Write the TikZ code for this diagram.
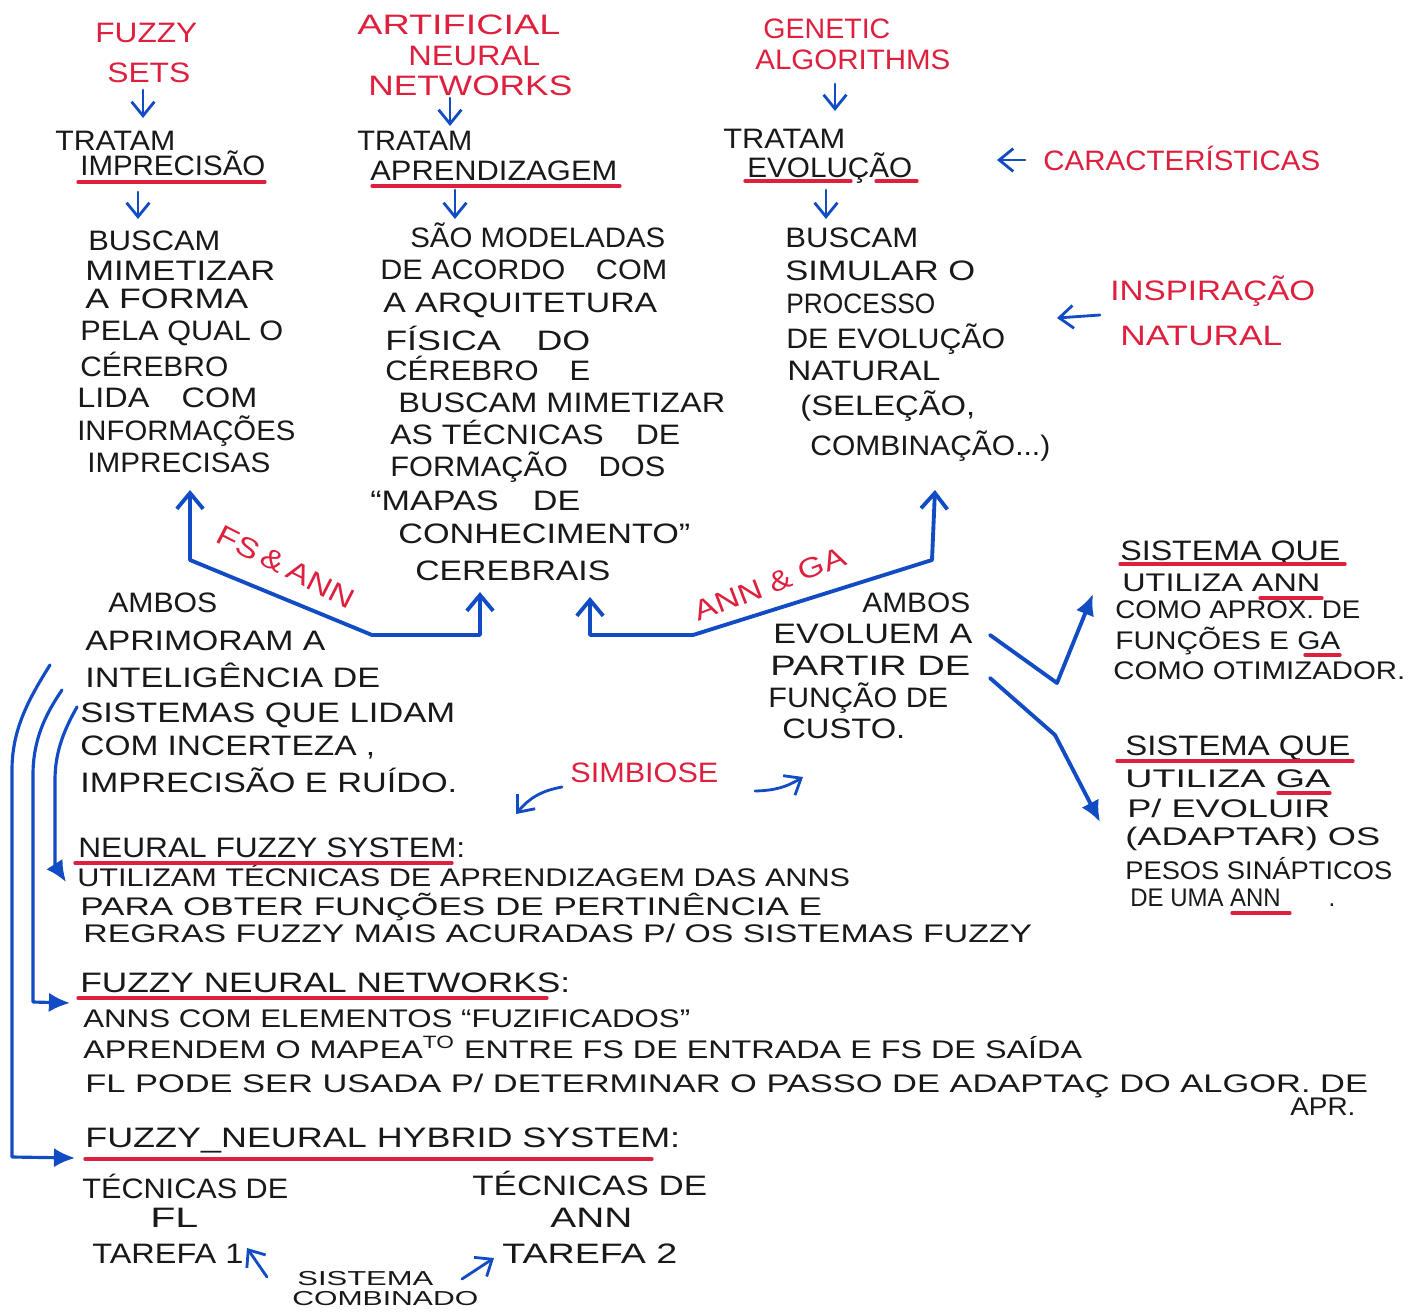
\documentclass[tikz,border=0pt]{standalone}
\usepackage{fontspec}
\usepackage{graphicx}
\setmainfont{Liberation Sans}
\usetikzlibrary{arrows.meta}
\definecolor{pred}{RGB}{222,32,62}
\definecolor{pblue}{RGB}{18,76,196}
\definecolor{pink}{RGB}{25,25,25}
\newcommand\hw[2]{\sbox0{#2}\pgfmathsetmacro\hwr{#1*0.56905/\the\wd0}\scalebox{\hwr}[1]{\usebox0}}
\tikzset{
  txt/.style={anchor=base west,inner sep=0pt,text=pink,font=\fontsize{16}{18}\selectfont},
  rtxt/.style={txt,text=pred},
  midtxt/.style={txt,font=\fontsize{14.5}{16}\selectfont},
  smalltxt/.style={txt,font=\fontsize{11.5}{12}\selectfont},
  uline/.style={draw=pred,line width=1.9pt,line cap=round},
  sarr/.style={draw=pblue,line width=1.6pt,-{Straight Barb[length=8pt,width=13pt]},line cap=round},
  barr/.style={draw=pblue,line width=2.2pt,line cap=round,line join=round},
  farr/.style={draw=pblue,line width=2.2pt,line cap=round,line join=round,-{Latex[length=12pt,width=11pt]}}
}
\begin{document}
\begin{tikzpicture}[x=0.02cm,y=-0.02cm]
\useasboundingbox[fill=white] (0,0) rectangle (1414,1315);
% red headers
\node[rtxt] (r1) at (95,42) {\hw{102}{FUZZY}};
\node[rtxt] (r2) at (107,82) {\hw{83}{SETS}};
\node[rtxt] (r3) at (357,34) {\hw{203}{ARTIFICIAL}};
\node[rtxt] (r4) at (408,65) {\hw{132}{NEURAL}};
\node[rtxt] (r5) at (368,95) {\hw{204}{NETWORKS}};
\node[rtxt] (r6) at (763,38) {\hw{127}{GENETIC}};
\node[rtxt] (r7) at (755,70) {\hw{195}{ALGORITHMS}};
\node[rtxt] (r8) at (1043,170) {\hw{277}{CARACTERÍSTICAS}};
\node[rtxt] (r9) at (1110,300) {\hw{205}{INSPIRAÇÃO}};
\node[rtxt] (r10) at (1120,345) {\hw{162}{NATURAL}};
\node[rtxt] (r11) at (570,782) {\hw{148}{SIMBIOSE}};
\node[rtxt,anchor=center,rotate=-27] (r12) at (286,567) {\hw{150}{FS\,\&\,ANN}};
\node[rtxt,anchor=center,rotate=21] (r13) at (770,584) {\hw{160}{ANN \& GA}};
% column 1
\node[txt] (a1) at (55,150) {\hw{120}{TRATAM}};
\node[txt] (a2) at (80,175) {\hw{185}{IMPRECISÃO}};
\node[txt] (a3) at (88,250) {\hw{132}{BUSCAM}};
\node[txt] (a4) at (85,280) {\hw{190}{MIMETIZAR}};
\node[txt] (a5) at (85,308) {\hw{163}{A FORMA}};
\node[txt] (a6) at (80,340) {\hw{203}{PELA QUAL O}};
\node[txt] (a7) at (80,376) {\hw{148}{CÉREBRO}};
\node[txt] (a8) at (77,407) {\hw{180}{LIDA\quad COM}};
\node[txt] (a9) at (77,440) {\hw{218}{INFORMAÇÕES}};
\node[txt] (a10) at (87,472) {\hw{183}{IMPRECISAS}};
% column 2
\node[txt] (b1) at (357,150) {\hw{115}{TRATAM}};
\node[txt] (b2) at (370,180) {\hw{247}{APRENDIZAGEM}};
\node[txt] (b3) at (410,247) {\hw{255}{SÃO MODELADAS}};
\node[txt] (b4) at (380,279) {\hw{287}{DE ACORDO\quad COM}};
\node[txt] (b5) at (383,312) {\hw{274}{A ARQUITETURA}};
\node[txt] (b6) at (385,350) {\hw{205}{FÍSICA\quad DO}};
\node[txt] (b7) at (385,380) {\hw{205}{CÉREBRO\quad E}};
\node[txt] (b8) at (398,412) {\hw{327}{BUSCAM MIMETIZAR}};
\node[txt] (b9) at (390,444) {\hw{290}{AS TÉCNICAS\quad DE}};
\node[txt] (b10) at (390,476) {\hw{275}{FORMAÇÃO\quad DOS}};
\node[txt] (b11) at (370,510) {\hw{210}{“MAPAS\quad DE}};
\node[txt] (b12) at (398,543) {\hw{292}{CONHECIMENTO”}};
\node[txt] (b13) at (415,580) {\hw{195}{CEREBRAIS}};
% column 3
\node[txt] (c1) at (723,148) {\hw{122}{TRATAM}};
\node[txt] (c2) at (747,177) {\hw{165}{EVOLUÇÃO}};
\node[txt] (c3) at (785,247) {\hw{133}{BUSCAM}};
\node[txt] (c4) at (785,280) {\hw{190}{SIMULAR O}};
\node[txt] (c5) at (786,313) {\hw{149}{PROCESSO}};
\node[txt] (c6) at (786,348) {\hw{219}{DE EVOLUÇÃO}};
\node[txt] (c7) at (787,380) {\hw{153}{NATURAL}};
\node[txt] (c8) at (800,415) {\hw{175}{(SELEÇÃO,}};
\node[txt] (c9) at (810,455) {\hw{240}{COMBINAÇÃO...)}};
% middle left
\node[txt] (d1) at (108,612) {\hw{109}{AMBOS}};
\node[txt] (d2) at (85,650) {\hw{240}{APRIMORAM A}};
\node[txt] (d3) at (85,687) {\hw{295}{INTELIGÊNCIA DE}};
\node[txt] (d4) at (80,722) {\hw{375}{SISTEMAS QUE LIDAM}};
\node[txt] (d5) at (80,755) {\hw{295}{COM INCERTEZA ,}};
\node[txt] (d6) at (80,792) {\hw{377}{IMPRECISÃO E RUÍDO.}};
% middle right
\node[txt] (e1) at (862,612) {\hw{108}{AMBOS}};
\node[txt] (e2) at (773,643) {\hw{199}{EVOLUEM A}};
\node[txt] (e3) at (770,675) {\hw{200}{PARTIR DE}};
\node[txt] (e4) at (768,707) {\hw{180}{FUNÇÃO DE}};
\node[txt] (e5) at (782,738) {\hw{123}{CUSTO.}};
% right
\node[txt] (f1) at (1120,560) {\hw{220}{SISTEMA QUE}};
\node[midtxt] (f2) at (1122,591) {\hw{198}{UTILIZA ANN}};
\node[midtxt] (f3) at (1115,618) {\hw{245}{COMO APROX. DE}};
\node[midtxt] (f4) at (1115,649) {\hw{225}{FUNÇÕES E GA}};
\node[midtxt] (f5) at (1113,679) {\hw{292}{COMO OTIMIZADOR.}};
\node[txt] (g1) at (1125,755) {\hw{225}{SISTEMA QUE}};
\node[midtxt] (g2) at (1125,787) {\hw{205}{UTILIZA GA}};
\node[midtxt] (g3) at (1127,817) {\hw{203}{P/ EVOLUIR}};
\node[midtxt] (g4) at (1125,845) {\hw{255}{(ADAPTAR) OS}};
\node[midtxt] (g5) at (1125,879) {\hw{267}{PESOS SINÁPTICOS}};
\node[midtxt] (g6) at (1130,906) {\hw{205}{DE UMA ANN\qquad .}};
% bottom
\node[txt] (h1) at (78,857) {\hw{387}{NEURAL FUZZY SYSTEM:}};
\node[midtxt] (h2) at (77,886) {\hw{773}{UTILIZAM TÉCNICAS DE APRENDIZAGEM DAS ANNS}};
\node[midtxt] (h3) at (80,915) {\hw{742}{PARA OBTER FUNÇÕES DE PERTINÊNCIA E}};
\node[midtxt] (h4) at (83,942) {\hw{949}{REGRAS FUZZY MAIS ACURADAS P/ OS SISTEMAS FUZZY}};
\node[txt] (i1) at (80,992) {\hw{490}{FUZZY NEURAL NETWORKS:}};
\node[midtxt] (i2) at (83,1027) {\hw{607}{ANNS COM ELEMENTOS “FUZIFICADOS”}};
\node[midtxt] (i3) at (83,1058) {\hw{999}{APRENDEM O MAPEA\textsuperscript{TO} ENTRE FS DE ENTRADA E FS DE SAÍDA}};
\node[midtxt] (i4) at (85,1092) {\hw{1283}{FL PODE SER USADA P/ DETERMINAR O PASSO DE ADAPTAÇ DO ALGOR. DE}};
\node[midtxt] (i5) at (1290,1115) {\hw{65}{APR.}};
\node[txt] (j1) at (85,1147) {\hw{595}{FUZZY\_NEURAL HYBRID SYSTEM:}};
\node[txt] (j2) at (82,1198) {\hw{206}{TÉCNICAS DE}};
\node[txt] (j3) at (150,1227) {\hw{48}{FL}};
\node[txt] (j4) at (472,1195) {\hw{235}{TÉCNICAS DE}};
\node[txt] (j5) at (550,1227) {\hw{82}{ANN}};
\node[txt] (j6) at (92,1263) {\hw{151}{TAREFA 1}};
\node[txt] (j7) at (502,1263) {\hw{175}{TAREFA 2}};
\node[smalltxt] (j8) at (297,1285) {\hw{136}{SISTEMA}};
\node[smalltxt] (j9) at (292,1305) {\hw{186}{COMBINADO}};
% red underlines
\draw[uline] (78,182) -- (265,182);
\draw[uline] (372,186) -- (620,186);
\draw[uline] (745,181) -- (851,181);
\draw[uline] (876,181) -- (917,181);
\draw[uline] (1120,564) -- (1345,564);
\draw[uline] (1260,598) -- (1322,598);
\draw[uline] (1305,655) -- (1340,655);
\draw[uline] (1117,761) -- (1353,761);
\draw[uline] (1278,793) -- (1330,793);
\draw[uline] (1232,913) -- (1290,913);
\draw[uline] (75,863) -- (452,863);
\draw[uline] (78,998) -- (547,998);
\draw[uline] (85,1159) -- (652,1159);
% small arrows
\coordinate (s1a) at (143,90);  \coordinate (s1b) at (143,118);
\coordinate (s2a) at (450,98);  \coordinate (s2b) at (450,126);
\coordinate (s3a) at (835,84);  \coordinate (s3b) at (835,111);
\coordinate (s4a) at (138,192); \coordinate (s4b) at (138,219);
\coordinate (s5a) at (455,190); \coordinate (s5b) at (455,219);
\coordinate (s6a) at (826,190); \coordinate (s6b) at (826,219);
\draw[sarr] (s1a) -- (s1b);
\draw[sarr] (s2a) -- (s2b);
\draw[sarr] (s3a) -- (s3b);
\draw[sarr] (s4a) -- (s4b);
\draw[sarr] (s5a) -- (s5b);
\draw[sarr] (s6a) -- (s6b);
\coordinate (k1) at (1025,160); \coordinate (k2) at (997,160);
\draw[sarr] (k1) -- (k2);
\coordinate (k3) at (1100,315); \coordinate (k4) at (1057,318);
\draw[sarr] (k3) -- (k4);
% FS & ANN and ANN & GA paths
\coordinate (p1) at (190,490); \coordinate (p2) at (190,560);
\coordinate (p3) at (372,635); \coordinate (p4) at (480,635);
\coordinate (p5) at (480,592);
\draw[barr,{Straight Barb[length=9pt,width=15pt]}-{Straight Barb[length=9pt,width=15pt]}] (p1) -- (p2) -- (p3) -- (p4) -- (p5);
\coordinate (q1) at (590,597); \coordinate (q2) at (590,635);
\coordinate (q3) at (693,635); \coordinate (q4) at (932,560);
\coordinate (q5) at (935,490);
\draw[barr,{Straight Barb[length=9pt,width=15pt]}-{Straight Barb[length=9pt,width=15pt]}] (q1) -- (q2) -- (q3) -- (q4) -- (q5);
% branches to right boxes
\coordinate (m1) at (990,635); \coordinate (m2) at (1057,683); \coordinate (m3) at (1093,594);
\draw[farr] (m1) -- (m2) -- (m3);
\coordinate (n1) at (990,678); \coordinate (n2) at (1055,735); \coordinate (n3) at (1100,822);
\draw[farr] (n1) -- (n2) -- (n3);
% simbiose arrows
\coordinate (t1) at (562,787); \coordinate (t2) at (516,814);
\draw[sarr] (t1) to[bend right=20] (t2);
\coordinate (t3) at (755,791); \coordinate (t4) at (803,777);
\draw[sarr] (t3) to[bend right=15] (t4);
% left brackets
\coordinate (u1) at (50,665); \coordinate (u2) at (12,1157); \coordinate (u3) at (75,1158);
\draw[farr,line width=1.8pt] (u1) .. controls (28,700) and (12,730) .. (12,770) -- (u2) -- (u3);
\coordinate (v1) at (62,690); \coordinate (v2) at (33,1002); \coordinate (v3) at (70,1003);
\draw[farr,line width=1.8pt] (v1) .. controls (45,715) and (33,740) .. (33,775) -- (v2) -- (v3);
\coordinate (w1) at (77,707); \coordinate (w2) at (55,865); \coordinate (w3) at (66,882);
\draw[farr,line width=1.8pt] (w1) .. controls (64,730) and (55,752) .. (55,780) -- (w2) -- (w3);
% tarefa arrows
\coordinate (x1) at (267,1277); \coordinate (x2) at (247,1248);
\draw[sarr] (x1) -- (x2);
\coordinate (y1) at (462,1279); \coordinate (y2) at (494,1258);
\draw[sarr] (y1) -- (y2);
\end{tikzpicture}
\end{document}
